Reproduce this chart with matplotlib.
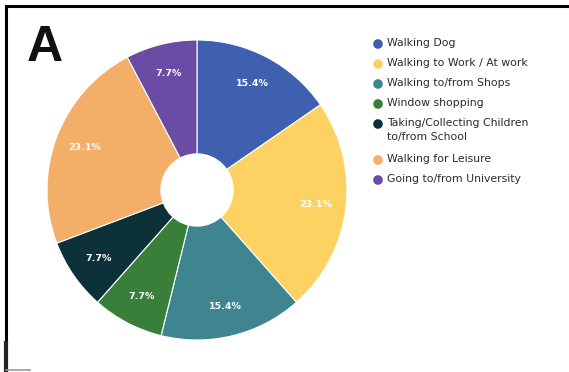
import numpy as np
import matplotlib.pyplot as plt

plt.rcParams['font.family'] = ['Liberation Sans', 'DejaVu Sans']

# activity categories and their share of responses (%)
activities = ['Walking Dog', 'Walking to Work / At work', 'Walking to/from Shops',
              'Window shopping', 'Taking/Collecting Children\nto/from School',
              'Walking for Leisure', 'Going to/from University']
shares = [15.4, 23.1, 15.4, 7.7, 7.7, 23.1, 7.7]
colours = ['#3f5fb1', '#fdd263', '#3e8590', '#38803a', '#0c3138', '#f3ae67', '#6a4ca4']

W, H = 569, 372
fig = plt.figure(figsize=(W / 100, H / 100), dpi=100)

# pie axes, placed in pixel terms
cx, cy, R = 197, 190, 150
ax = fig.add_axes([(cx - R) / W, 1 - (cy + R) / H, 2 * R / W, 2 * R / H])
wedges, texts, autotexts = ax.pie(
    shares, colors=colours, startangle=90, counterclock=False,
    autopct='%.1f%%', pctdistance=0.8,
    wedgeprops=dict(edgecolor='white', linewidth=0.8),
    textprops=dict(color='white', fontsize=6.8, fontweight='bold',
                   family='DejaVu Sans'))
for t, v in zip(autotexts, shares):
    t.set_text('%.1f%%' % v)
ax.add_patch(plt.Circle((0, 0), 0.24, color='white', zorder=5))
ax.set_xlim(-1, 1)
ax.set_ylim(-1, 1)
ax.set_aspect('equal')
ax.axis('off')

# overlay in pixel coordinates for frame, panel letter and legend
ov = fig.add_axes([0, 0, 1, 1], zorder=-1)
ov.set_xlim(0, W)
ov.set_ylim(H, 0)
ov.axis('off')
ov.plot([6, W], [6, 6], color='black', lw=2.2)
ov.plot([6, 6], [6, 345], color='black', lw=2.2)
ov.plot([6, 6], [343, 371], color='#222222', lw=3)
ov.plot([6, 30], [370, 370], color='#999999', lw=1.2)

ov.text(27, 48, 'A', fontsize=36, fontweight='bold', va='center', ha='left',
        color='#111111', fontstretch='condensed')

# legend
rows = [44, 64, 84, 104, 124, 160, 180]
for y, label, c in zip(rows, activities, colours):
    ov.scatter(378, y, s=48, color=c, edgecolor='none')
    ov.text(387, y - 6.5, label, fontsize=7.8, color='#2a2a2a', va='top', ha='left',
            linespacing=1.55, family='DejaVu Sans')

fig.savefig('out.png', dpi=100)
